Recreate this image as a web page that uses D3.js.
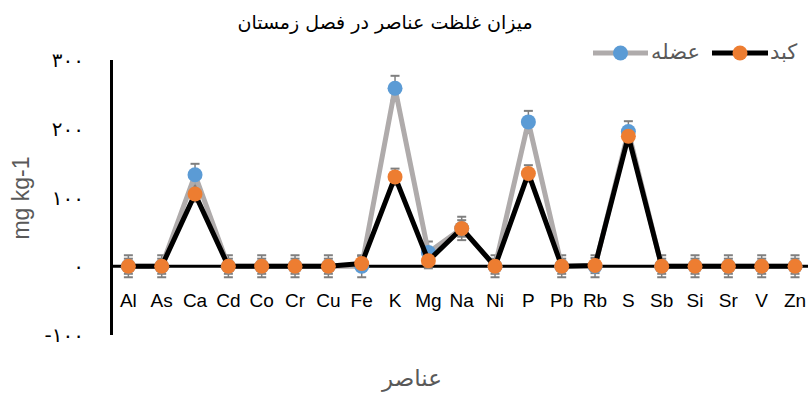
<!DOCTYPE html>
<html>
<head>
<meta charset="utf-8">
<script src="https://cdn.jsdelivr.net/npm/d3@7"></script>
<style>
  body { margin: 0; background: #fff; }
  text { font-family: "Liberation Sans", "DejaVu Sans", sans-serif; }
  .fa { font-family: "DejaVu Sans", "Noto Sans", sans-serif; }
</style>
</head>
<body>
<div id="chart"></div>
<script>
// elements on the x axis
const elements = ["Al","As","Ca","Cd","Co","Cr","Cu","Fe","K","Mg","Na","Ni","P","Pb","Rb","S","Sb","Si","Sr","V","Zn"];
// muscle (عضله) values and error
const muscle    = [0, 0, 133, 0, 0, 0, 0, 0, 259, 20, 55, 0, 210, 0, 0, 196, 0, 0, 0, 0, 0];
const muscleErr = [16,16, 16, 16,16,16,16,16, 18, 16, 17,16, 16, 16,16, 15, 16,16,16,16,16];
// liver (کبد) values and error
const liver     = [0, 0, 105, 0, 0, 0, 0, 4, 130, 8, 55, 0, 135, 0, 1, 189, 0, 0, 0, 0, 0];
const liverErr  = [11,11, 11, 11,11,11,11,11, 12, 11, 12,11, 12, 11,11, 11, 11,11,11,11,11];
// y ticks, persian digits
const yTicks = [-100, 0, 100, 200, 300];
const yTickLabels = ["-۱۰۰", "۰", "۱۰۰", "۲۰۰", "۳۰۰"];

const width = 808, height = 394;

const svg = d3.select("#chart").append("svg")
  .attr("width", width)
  .attr("height", height);

const x = d3.scalePoint().domain(elements).range([111.7, 811.7]).padding(0.5);
const y = d3.scaleLinear().domain([-100, 300]).range([335, 60]);

// title
svg.append("text").attr("class", "fa")
  .attr("x", 385).attr("y", 29)
  .attr("text-anchor", "middle")
  .attr("direction", "rtl")
  .style("font-size", "19px")
  .attr("fill", "#000")
  .text("میزان غلظت عناصر در فصل زمستان");

// y tick labels
svg.selectAll(".ytick").data(yTicks).enter().append("text")
  .attr("class", "fa")
  .attr("x", 84)
  .attr("y", d => y(d) + 7)
  .attr("text-anchor", "end")
  .style("font-size", "20px")
  .attr("fill", "#000")
  .text((d, i) => yTickLabels[i]);

// y title
svg.append("text")
  .attr("transform", "translate(29,198) rotate(-90)")
  .attr("text-anchor", "middle")
  .style("font-size", "23px")
  .attr("fill", "#595959")
  .text("mg kg-1");

// x title
svg.append("text").attr("class", "fa")
  .attr("x", 412).attr("y", 386)
  .attr("text-anchor", "middle")
  .style("font-size", "23px")
  .attr("fill", "#595959")
  .text("عناصر");

// axes lines
svg.append("line")
  .attr("x1", 111.5).attr("x2", 111.5)
  .attr("y1", y(-100)).attr("y2", y(300))
  .attr("stroke", "#000").attr("stroke-width", 3);
svg.append("line")
  .attr("x1", 111.5).attr("x2", width)
  .attr("y1", y(0)).attr("y2", y(0))
  .attr("stroke", "#000").attr("stroke-width", 3);

// category labels
svg.selectAll(".xlab").data(elements).enter().append("text")
  .attr("x", d => x(d))
  .attr("y", 307)
  .attr("text-anchor", "middle")
  .style("font-size", "19px")
  .attr("fill", "#000")
  .text(d => d);

const series = [
  { name: "عضله", values: muscle, err: muscleErr, line: "#AFABAB", marker: "#5B9BD5" },
  { name: "کبد", values: liver, err: liverErr, line: "#000000", marker: "#ED7D31" }
];

// error bars first, they sit under the lines
series.forEach(function(s) {
  const g = svg.append("g");
  elements.forEach(function(e, i) {
    const cx = x(e), top = y(s.values[i] + s.err[i]), bot = y(s.values[i] - s.err[i]);
    g.append("line").attr("x1", cx).attr("x2", cx).attr("y1", top).attr("y2", bot)
      .attr("stroke", "#7F7F7F").attr("stroke-width", 1.5);
    [top, bot].forEach(function(yy) {
      g.append("line").attr("x1", cx - 4.5).attr("x2", cx + 4.5).attr("y1", yy).attr("y2", yy)
        .attr("stroke", "#7F7F7F").attr("stroke-width", 2);
    });
  });
});

const line = d3.line()
  .x((d, i) => x(elements[i]))
  .y(d => y(d));

series.forEach(function(s) {
  svg.append("path")
    .datum(s.values)
    .attr("d", line)
    .attr("fill", "none")
    .attr("stroke", s.line)
    .attr("stroke-width", 5)
    .attr("stroke-linejoin", "round");
  svg.append("g").selectAll("circle").data(s.values).enter().append("circle")
    .attr("cx", (d, i) => x(elements[i]))
    .attr("cy", d => y(d))
    .attr("r", 7.5)
    .attr("fill", s.marker);
});

// legend (right to left: کبد then عضله)
const legend = [
  { s: series[1], x1: 712, x2: 768, tx: 770 },
  { s: series[0], x1: 593, x2: 648, tx: 651 }
];
legend.forEach(function(l) {
  svg.append("line")
    .attr("x1", l.x1).attr("x2", l.x2).attr("y1", 53).attr("y2", 53)
    .attr("stroke", l.s.line).attr("stroke-width", 5);
  svg.append("circle")
    .attr("cx", (l.x1 + l.x2) / 2).attr("cy", 53).attr("r", 7.5)
    .attr("fill", l.s.marker);
  svg.append("text").attr("class", "fa")
    .attr("x", l.tx).attr("y", 59)
    .attr("text-anchor", "start")
    .style("font-size", "21px")
    .attr("fill", "#595959")
    .text(l.s.name);
});
</script>
</body>
</html>
